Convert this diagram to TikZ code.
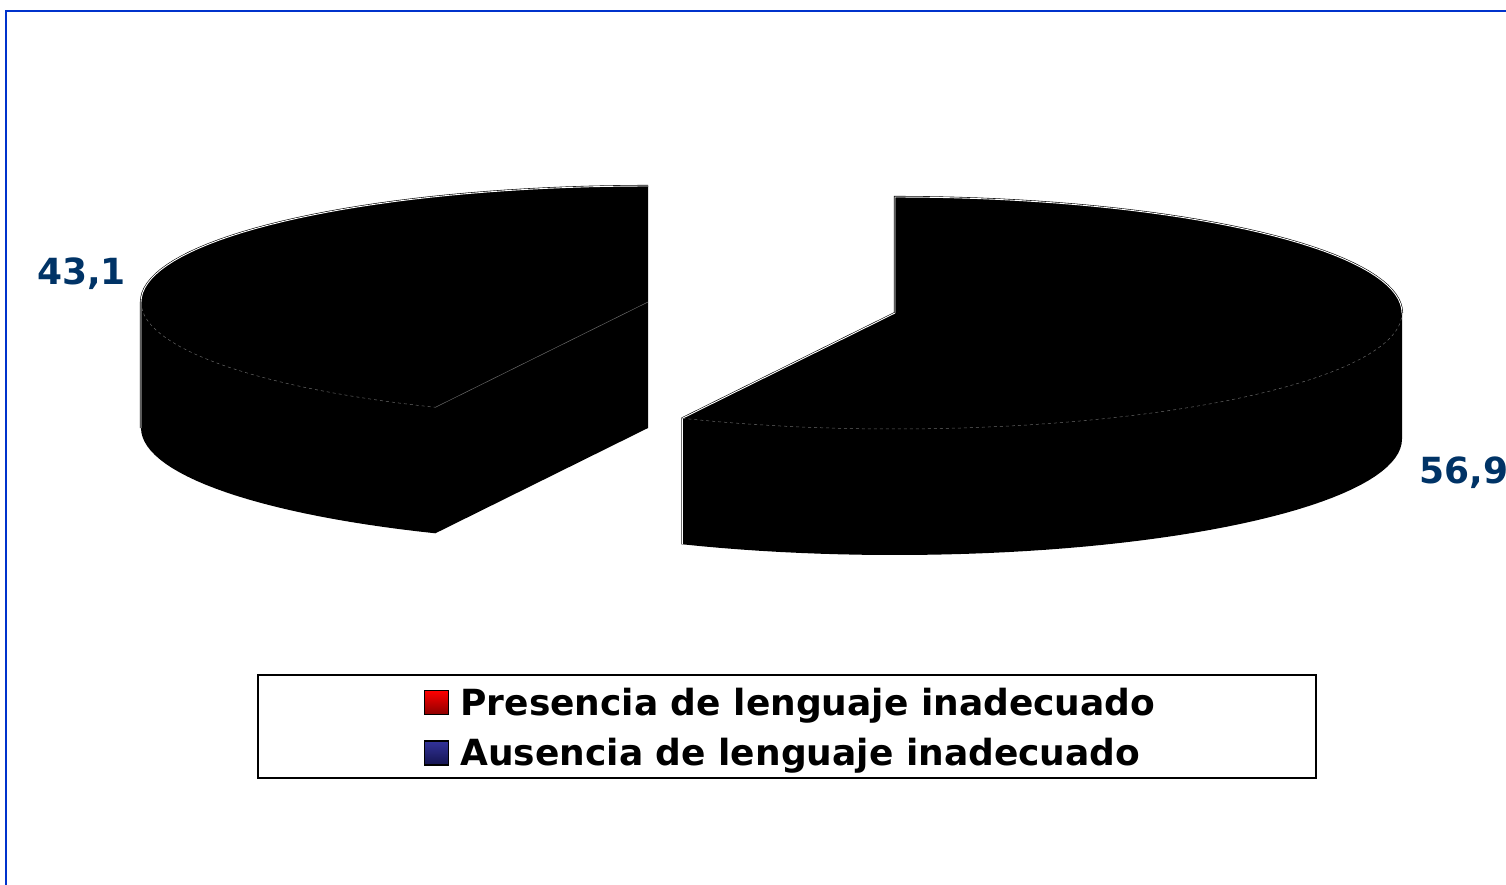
\documentclass[tikz,border=0pt]{standalone}
\usepackage{fontspec}
\setmainfont{DejaVu Sans}
\usepackage{tikz}
\usetikzlibrary{positioning}
\usetikzlibrary{calc}
\definecolor{framecol}{RGB}{0,51,204}
\definecolor{labelcol}{RGB}{0,51,102}
\definecolor{keyred}{RGB}{255,0,0}
\definecolor{keyreddark}{RGB}{140,0,0}
\definecolor{keyblue}{RGB}{51,51,153}
\definecolor{keybluedark}{RGB}{20,20,80}
\newcommand{\pierx}{507}
\newcommand{\piery}{116}
\newcommand{\piedepth}{126}

\begin{document}
\begin{tikzpicture}[x=1pt, y=-1pt,
				rim/.style={draw=black, double=white, double distance=0.9pt, line width=0.6pt},
				seam/.style={draw=black!60, line width=0.5pt},
				keybox/.style={draw=black, line width=1.5pt, minimum size=24pt, inner sep=0pt},
				legendtext/.style={font=\bfseries\fontsize{36}{40}\selectfont, inner sep=0pt},
				valuelabel/.style={font=\bfseries\fontsize{36}{40}\selectfont, text=labelcol, inner sep=0pt}]
				\useasboundingbox (0,0) rectangle (1506,885);
				\draw[framecol, line width=2pt] (6,890) -- (6,11) -- (1510,11);
				
				% slice 43,1
				\begin{scope}[shift={(648,302)}]
					\fill[black] (0,-\piery) -- plot[domain=90:180, samples=40] ({\pierx*cos(\x)},{-\piery*sin(\x)}) -- ++(0,\piedepth)
						-- plot[domain=180:245.2, samples=30] ({\pierx*cos(\x)},{\piedepth-\piery*sin(\x)}) -- (0,\piedepth) -- cycle;
					\draw[rim] plot[domain=90:180, samples=40] ({\pierx*cos(\x)},{-\piery*sin(\x)}) -- ++(0,\piedepth);
					\draw[seam, dashed] plot[domain=180:245.2, samples=30] ({\pierx*cos(\x)},{-\piery*sin(\x)});
					\draw[seam] (0,0) -- ({\pierx*cos(245.2)},{-\piery*sin(245.2)});
				\end{scope}
				
				% slice 56,9
				\begin{scope}[shift={(895,313)}]
					\fill[black] (0,-\piery) -- (0,0) -- ({\pierx*cos(245.2)},{-\piery*sin(245.2)}) -- ++(0,\piedepth)
						-- plot[domain=245.2:360, samples=50] ({\pierx*cos(\x)},{\piedepth-\piery*sin(\x)}) -- (\pierx,0)
						-- plot[domain=0:90, samples=40] ({\pierx*cos(\x)},{-\piery*sin(\x)}) -- cycle;
					\draw[rim] (0,0) -- (0,-\piery) -- plot[domain=90:0, samples=40] ({\pierx*cos(\x)},{-\piery*sin(\x)});
					\draw[rim] (0,0) -- ({\pierx*cos(245.2)},{-\piery*sin(245.2)}) -- ++(0,\piedepth);
					\draw[seam, dashed] plot[domain=245.2:360, samples=50] ({\pierx*cos(\x)},{-\piery*sin(\x)});
				\end{scope}
				
				\node[valuelabel, anchor=base west] (valleft) at (37,284) {43,1};
				\node[valuelabel, anchor=base west] (valright) at (1419,483) {56,9};
				
				% legend
				\node[draw, line width=1.5pt, minimum width=1058pt, minimum height=103pt, inner sep=0pt] (legend) at (787,726.5) {};
				\node[keybox, top color=keyred, bottom color=keyreddark] (redkey) at (436.5,702.5) {};
				\node[legendtext, right=11pt of redkey.south east, anchor=base west] (pres) {Presencia de lenguaje inadecuado};
				\node[keybox, top color=keyblue, bottom color=keybluedark] (bluekey) at (436.5,753) {};
				\node[legendtext, right=11pt of bluekey.south east, anchor=base west] (aus) {Ausencia de lenguaje inadecuado};
			\end{tikzpicture}
\end{document}
